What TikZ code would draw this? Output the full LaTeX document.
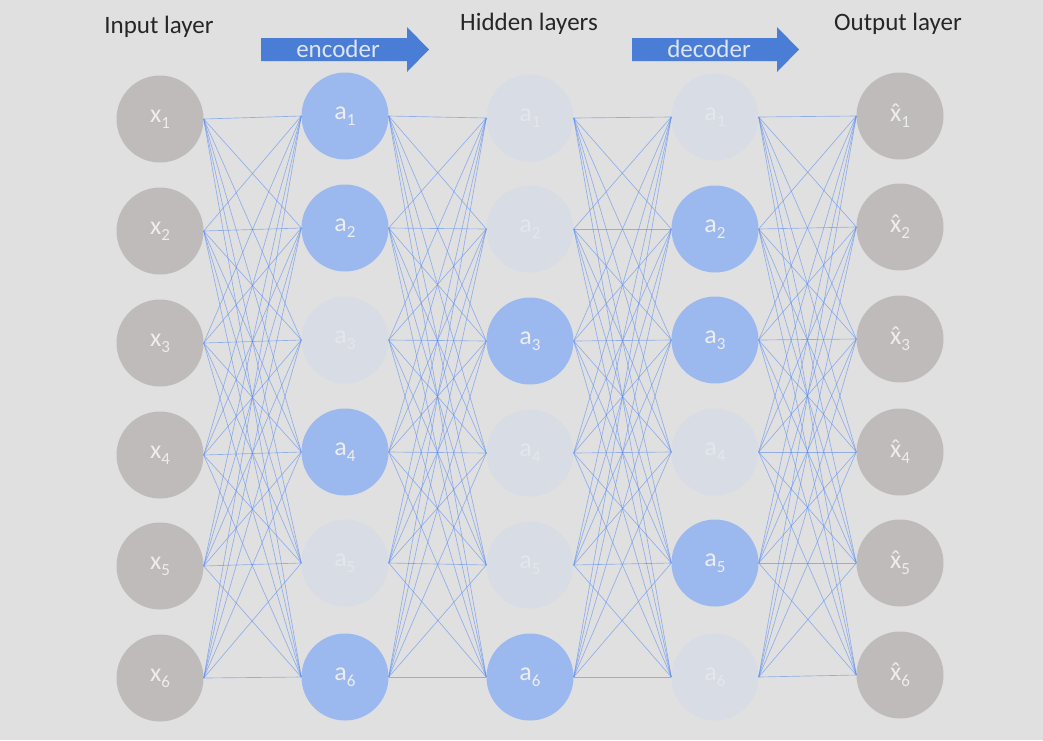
\documentclass[tikz,border=0pt]{standalone}
\usepackage{fontspec}
\setmainfont{Carlito}
\definecolor{bg}{HTML}{E0E0E0}
\definecolor{grayc}{HTML}{BFBBBA}
\definecolor{bluec}{HTML}{9BB9EE}
\definecolor{fadec}{HTML}{D8DDE5}
\definecolor{labc}{HTML}{EDEDED}
\definecolor{fadelab}{HTML}{E3E6EB}
\definecolor{arrc}{HTML}{4A7ED6}
\definecolor{arrtxt}{HTML}{DDE5F3}
\definecolor{linec}{HTML}{5A8CF0}
\newcommand{\lab}[2]{#1\raisebox{-6pt}{\fontsize{17}{17}\selectfont #2}}
\newcommand{\hatx}{\accent"02C6 x}
\begin{document}
\begin{tikzpicture}[x=1pt,y=-1pt,
  neuron/.style={circle,minimum size=87pt,inner sep=0pt,font=\fontsize{26}{26}\selectfont},
  inp/.style={neuron,fill=grayc,text=labc},
  act/.style={neuron,fill=bluec,text=labc},
  off/.style={neuron,fill=fadec,text=fadelab},
  conn/.style={linec,opacity=0.6,line width=0.65pt},
  title/.style={anchor=base,font=\fontsize{25}{25}\selectfont,text=black!85},
  arrlab/.style={font=\fontsize{25}{25}\selectfont,text=arrtxt},
  arrowfill/.style={fill=arrc}]
\fill[bg] (0,0) rectangle (1043,740);
\useasboundingbox (0,0) rectangle (1043,740);
% titles
\node[title] (tin) at (159,33) {Input layer};
\node[title] (thid) at (529,30) {Hidden layers};
\node[title] (tout) at (898,30) {Output layer};
% arrows
\fill[arrowfill] (261,38) -- (407,38) -- (407,27) -- (429,49.5) -- (407,72) -- (407,61) -- (261,61) -- cycle;
\node[arrlab] (enc) at (338,49) {encoder};
\fill[arrowfill] (632,38) -- (777,38) -- (777,27) -- (799,49.5) -- (777,72) -- (777,61) -- (632,61) -- cycle;
\node[arrlab] (dec) at (709,49) {decoder};
% column 1
\foreach \i/\y in {1/119,2/231,3/343,4/455,5/566,6/678}
  \node[inp] (c1-\i) at (160,\y) {\lab{x}{\i}};
% column 2
\foreach \i/\y/\s in {1/116/act,2/228/act,3/340/off,4/452/act,5/563/off,6/677/act}
  \node[\s] (c2-\i) at (345,\y) {\lab{a}{\i}};
% column 3
\foreach \i/\y/\s in {1/118/off,2/229/off,3/341/act,4/453/off,5/565/off,6/677/act}
  \node[\s] (c3-\i) at (530,\y) {\lab{a}{\i}};
% column 4
\foreach \i/\y/\s in {1/117/off,2/229/act,3/340/act,4/452/off,5/563/act,6/677/off}
  \node[\s] (c4-\i) at (715,\y) {\lab{a}{\i}};
% column 5
\foreach \i/\y in {1/116,2/227,3/339,4/452,5/563,6/675}
  \node[inp] (c5-\i) at (900,\y) {\lab{\hatx}{\i}};
% connections
\foreach \c/\n in {1/2,2/3,3/4,4/5}
  \foreach \i in {1,...,6}
    \foreach \j in {1,...,6}
      \draw[conn] (c\c-\i.east) -- (c\n-\j.west);
\end{tikzpicture}
\end{document}
